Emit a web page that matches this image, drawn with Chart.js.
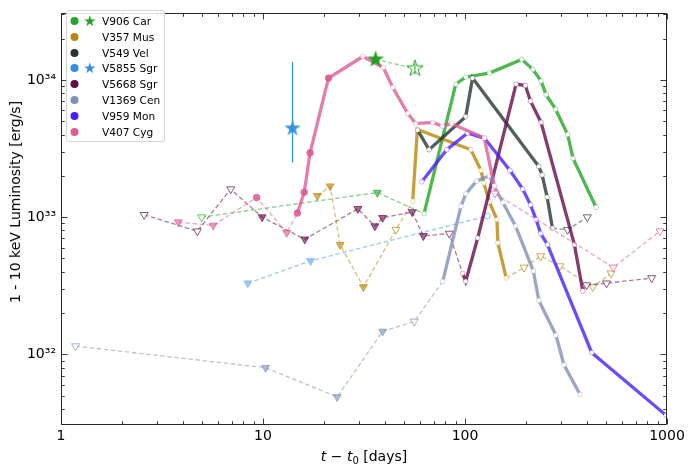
<!DOCTYPE html>
<html><head><meta charset="utf-8">
<script src="https://cdn.jsdelivr.net/npm/chart.js@4.4.1/dist/chart.umd.min.js"></script>
<style>
html,body{margin:0;padding:0;background:#fff;}
#wrap{position:relative;width:692px;height:470px;font-family:'DejaVu Sans',sans-serif;color:#000;}
#c{position:absolute;left:0;top:0;}
#legend{position:absolute;left:66px;top:10px;width:99px;height:132px;border:1px solid #d4d4d4;border-radius:3px;background:rgba(255,255,255,0.85);box-sizing:border-box;}
.lrow{position:absolute;left:0;width:97px;height:16px;}
.lrow svg{position:absolute;left:0;top:0;}
.lrow span{position:absolute;left:35px;top:0;font-size:10.6px;line-height:16px;white-space:nowrap;}
#xt{position:absolute;left:264px;width:200px;top:447px;text-align:center;font-size:14px;line-height:18px;white-space:nowrap;}
#xt sub{font-size:10px;vertical-align:-3px;line-height:0;}
#yt{position:absolute;left:15px;top:202px;font-size:14px;line-height:18px;white-space:nowrap;transform:translate(-50%,-50%) rotate(-90deg);}
</style></head>
<body><div id="wrap"><canvas id="c" width="692" height="470"></canvas>
<div id="legend"></div>
<div id="xt"><i>t</i> − <i>t</i><sub>0</sub> [days]</div>
<div id="yt">1 - 10 keV Luminosity [erg/s]</div>
</div>
<script>
// ---------------- data ----------------
const xTicks = [1, 10, 100, 1000];
const yTicks = [1e32, 1e33, 1e34];

// V906 Car
const carDetT = [62.7, 90, 101, 132, 191, 217, 238, 252, 281, 322, 343, 445];
const carDetL = [1.06e33, 9.3e33, 1.05e34, 1.12e34, 1.41e34, 1.19e34, 9.8e33, 7.8e33, 6.1e33, 4.0e33, 2.68e33, 1.18e33];
const carUlT = [4.97, 36.8];
const carUlL = [1.0e33, 1.51e33];
const carStarT = [36.1, 56.5];
const carStarL = [1.41e34, 1.21e34];
const carStarErrLo = [1.1e34];
const carStarErrHi = [1.32e34];

// V357 Mus
const musDetT = [55.1, 58.1, 107, 120, 124, 132, 144, 145.5, 160];
const musDetL = [1.31e33, 4.36e33, 3.1e33, 2.19e33, 1.77e33, 1.29e33, 9.6e32, 6.5e32, 3.6e32];
const musUlT = [18.6, 21.5, 24.1, 31.4, 45.5, 196, 237, 295, 429, 528];
const musUlL = [1.43e33, 1.68e33, 6.3e32, 3.1e32, 8.1e32, 4.3e32, 5.2e32, 4.4e32, 3.1e32, 3.9e32];

// V549 Vel
const velDetT = [58.3, 66.4, 100.8, 109, 232, 241, 255, 271];
const velDetL = [4.3e33, 3.1e33, 5.4e33, 1.03e34, 2.34e33, 2.03e33, 1.4e33, 8.3e32];
const velUlT = [322, 403];
const velUlL = [8.1e32, 1.0e33];

// V5855 Sgr
const s55DetT = [129];
const s55DetL = [1.02e33];
const s55UlT = [8.4, 17.2];
const s55UlL = [3.3e32, 4.8e32];
const s55StarT = [14.0];
const s55StarL = [4.43e33];
const s55StarErrLo = [2.5e33];
const s55StarErrHi = [1.35e34];

// V5668 Sgr
const s68DetT = [97.3, 100.8, 115.6, 179, 199, 211, 238, 348, 383];
const s68DetL = [3.9e32, 3.4e32, 7.05e32, 9.3e33, 9.1e33, 7.0e33, 4.9e33, 6.3e32, 2.9e32];
const s68UlT = [2.58, 4.73, 6.92, 9.9, 16.1, 29.5, 35.8, 39.1, 54.8, 62.2, 83.6, 400, 502, 840];
const s68UlL = [1.04e33, 7.9e32, 1.6e33, 1.0e33, 6.9e32, 1.15e33, 8.6e32, 9.9e32, 1.09e33, 7.3e32, 7.6e32, 3.2e32, 3.3e32, 3.6e32];

// V1369 Cen
const cenDetT = [77.6, 95.5, 101, 114, 132, 140, 154, 178, 218, 232, 282, 309, 371];
const cenDetL = [3.4e32, 1.2e33, 1.48e33, 1.83e33, 2.0e33, 1.66e33, 1.28e33, 8.6e32, 4.05e32, 2.47e32, 1.38e32, 8.4e31, 5.1e31];
const cenUlT = [1.18, 10.3, 23.3, 39.1, 56.1];
const cenUlL = [1.15e32, 8.0e31, 4.9e31, 1.47e32, 1.74e32];

// V959 Mon
const monDetT = [61.1, 81.2, 103, 125, 167, 193, 211, 225, 237, 256, 424, 990];
const monDetL = [1.81e33, 3.1e33, 4.1e33, 3.75e33, 2.19e33, 1.6e33, 1.23e33, 9.6e32, 7.6e32, 6.3e32, 1.03e32, 3.6e31];

// V407 Cyg
const cygDetT = [14.8, 16.0, 17.1, 21.1, 31.2, 39.4, 43.9, 52.0, 57.0, 69.2, 77.2, 85.9, 124.6, 139.6];
const cygDetL = [1.07e33, 1.52e33, 2.94e33, 1.03e34, 1.48e34, 1.23e34, 8.8e33, 5.7e33, 4.8e33, 4.9e33, 4.6e33, 4.8e33, 3.77e33, 1.69e33];
const cygExT = [9.3];
const cygExL = [1.39e33];
const cygUlT = [3.81, 5.67, 13.1, 140.7, 542, 923];
const cygUlL = [9.2e32, 8.7e32, 7.7e32, 1.49e33, 4.3e32, 7.9e32];

// ---------------- series config ----------------
const novae = [
  {name:'V906 Car', color:'#22a522', detT:carDetT, detL:carDetL, ulT:carUlT, ulL:carUlL, openUl:[0], star:true},
  {name:'V357 Mus', color:'#b8860b', detT:musDetT, detL:musDetL, ulT:musUlT, ulL:musUlL, openUl:[4,5,6,7,8,9]},
  {name:'V549 Vel', color:'#283434', detT:velDetT, detL:velDetL, ulT:velUlT, ulL:velUlL, openUl:[0,1]},
  {name:'V5855 Sgr', color:'#2f8fe0', ulColor:'#8cc2f2', detT:s55DetT, detL:s55DetL, ulT:s55UlT, ulL:s55UlL, openUl:[], noLine:true, star:true},
  {name:'V5668 Sgr', color:'#640b48', detT:s68DetT, detL:s68DetL, ulT:s68UlT, ulL:s68UlL, openUl:[0,1,2,10,11,12,13]},
  {name:'V1369 Cen', color:'#7f90b8', detT:cenDetT, detL:cenDetL, ulT:cenUlT, ulL:cenUlL, openUl:[0,4]},
  {name:'V959 Mon', color:'#4b1cff', detT:monDetT, detL:monDetL, ulT:[], ulL:[], openUl:[]},
  {name:'V407 Cyg', color:'#dd5c96', detT:cygDetT, detL:cygDetL, ulT:cygUlT, ulL:cygUlL, openUl:[3,4,5], exT:cygExT, exL:cygExL, filledDet:4}
];

function rgba(hex, a){
  const n = parseInt(hex.slice(1),16);
  return `rgba(${(n>>16)&255},${(n>>8)&255},${n&255},${a})`;
}
function starCanvas(R, fill, stroke, lw){
  const s = Math.ceil(2*R+2*lw+2);
  const cv = document.createElement('canvas'); cv.width = s; cv.height = s;
  const g = cv.getContext('2d'); const c = s/2; const r = R*0.382;
  g.beginPath();
  for(let i=0;i<10;i++){
    const ang = -Math.PI/2 + i*Math.PI/5; const rr = i%2===0 ? R : r;
    const px = c + rr*Math.cos(ang), py = c + rr*Math.sin(ang);
    if(i===0) g.moveTo(px,py); else g.lineTo(px,py);
  }
  g.closePath();
  g.fillStyle = fill; g.fill();
  if(stroke){ g.strokeStyle = stroke; g.lineWidth = lw; g.stroke(); }
  return cv;
}

function dashedPoints(s){
  const ul = s.ulT.map((t,i)=>({x:t, y:s.ulL[i], kind:'ul', open:s.openUl.includes(i)}));
  const ex = (s.exT||[]).map((t,i)=>({x:t, y:s.exL[i], kind:'ex'}));
  const all = ul.concat(ex).sort((a,b)=>a.x-b.x);
  const n = s.detT.length;
  const t0 = s.detT[0], t1 = s.detT[n-1];
  const pre = all.filter(p=>p.x < t0), post = all.filter(p=>p.x > t1);
  const pts = [];
  if(pre.length){ pts.push(...pre, {x:t0, y:s.detL[0], kind:'det'}); }
  if(post.length){
    if(pts.length) pts.push({x:Math.sqrt(t0*t1), y:null, kind:'gap'});
    pts.push({x:t1, y:s.detL[n-1], kind:'det'}, ...post);
  }
  return pts;
}

const datasets = [];
novae.forEach(s=>{
  const uc = s.ulColor || s.color;
  const dpts = dashedPoints(s);
  if(dpts.length){
    datasets.push({
      data: dpts, borderColor: rgba(uc, s.ulColor?0.85:0.55), borderWidth: 1.3, borderDash:[4.5,2.6],
      spanGaps:false, fill:false, tension:0,
      pointStyle: c => (c.raw && c.raw.kind==='ex') ? 'circle' : 'triangle',
      pointRotation: c => (c.raw && c.raw.kind==='ex') ? 0 : 180,
      pointRadius: c => { const k = c.raw && c.raw.kind; return k==='ul' ? 4.6 : (k==='ex' ? 3.3 : 0); },
      pointBackgroundColor: c => { const r=c.raw||{}; if(r.kind==='ex') return rgba(s.color,0.85); return r.open ? 'rgba(255,255,255,0.9)' : rgba(uc, s.ulColor?0.9:0.6); },
      pointBorderColor: c => { const r=c.raw||{}; return r.kind==='ex' ? rgba(s.color,0.85) : rgba(uc, s.ulColor?0.95:0.7); },
      pointBorderWidth: 1
    });
  }
  const det = s.detT.map((t,i)=>({x:t, y:s.detL[i]}));
  datasets.push({
    data: det, showLine: !s.noLine, borderColor: rgba(s.color,0.8), borderWidth: 3.3, tension:0,
    pointStyle:'circle',
    pointRadius: c => (s.filledDet && c.dataIndex < s.filledDet) ? 3.3 : (s.noLine ? 3 : 2.4),
    pointBackgroundColor: c => (s.filledDet && c.dataIndex < s.filledDet) ? rgba(s.color,0.9) : '#ffffff',
    pointBorderColor: c => (s.filledDet && c.dataIndex < s.filledDet) ? rgba(s.color,0.9) : (s.noLine ? rgba(s.ulColor,1) : rgba(s.color,0.4)),
    pointBorderWidth: c => s.noLine ? 1 : 0.8
  });
});

// V906 Car stars
datasets.push({
  data: carStarT.map((t,i)=>({x:t, y:carStarL[i]})), borderColor: rgba('#22a522',0.55), borderWidth:1.2, borderDash:[4,2.5],
  pointStyle: c => c.dataIndex===0 ? starCanvas(9,'#1e9e1e',null,0) : starCanvas(8.6,'#ffffff','#22a522',1),
  pointRadius: 9
});
datasets.push({
  data: [{x:carStarT[1], y:carStarErrLo[0]},{x:carStarT[1], y:carStarErrHi[0]}], borderColor:'#22a522', borderWidth:1, pointRadius:0
});
// V5855 Sgr star with error bar
datasets.push({
  data: [{x:s55StarT[0], y:s55StarErrLo[0]},{x:s55StarT[0], y:s55StarErrHi[0]}], borderColor:'#2f8fe0', borderWidth:1.2, pointRadius:0
});
datasets.push({
  data: s55StarT.map((t,i)=>({x:t, y:s55StarL[i]})), showLine:false,
  pointStyle: starCanvas(8.6,'#3490e0',null,0), pointRadius: 9
});
datasets.forEach((d,i)=>{ d.order = -i; });

const sup = {'0':'⁰','1':'¹','2':'²','3':'³','4':'⁴','5':'⁵','6':'⁶','7':'⁷','8':'⁸','9':'⁹'};
const supStr = n => String(n).split('').map(ch=>sup[ch]).join('');

const frameTicks = {
  id:'frameTicks',
  afterDatasetsDraw(chart){
    const {ctx, chartArea:a, scales:{x, y}} = chart;
    ctx.save();
    ctx.strokeStyle = '#262626'; ctx.lineWidth = 1;
    ctx.beginPath();
    const L = Math.round(a.left)+0.5, R = Math.round(a.right)-0.5, T = Math.round(a.top)+0.5, B = Math.round(a.bottom)-0.5;
    ctx.rect(L, T, R-L, B-T); ctx.stroke();
    ctx.lineWidth = 0.9;
    ctx.beginPath();
    const xt = (v, len) => { const p = Math.round(x.getPixelForValue(v))+0.5; ctx.moveTo(p,B); ctx.lineTo(p,B-len); ctx.moveTo(p,T); ctx.lineTo(p,T+len); };
    const yt = (v, len) => { const p = Math.round(y.getPixelForValue(v))+0.5; ctx.moveTo(L,p); ctx.lineTo(L+len,p); ctx.moveTo(R,p); ctx.lineTo(R-len,p); };
    for(let e=0;e<3;e++){ for(let m=2;m<=9;m++) xt(m*Math.pow(10,e), 3.3); }
    xTicks.forEach(v=>xt(v,6));
    for(let e=31;e<=34;e++){ for(let m=2;m<=9;m++){ const v=m*Math.pow(10,e); if(v>y.min && v<y.max) yt(v,3.3);} }
    yTicks.forEach(v=>yt(v,6));
    ctx.stroke();
    ctx.restore();
  }
};

Chart.defaults.font.family = "'DejaVu Sans', sans-serif";
Chart.defaults.font.size = 14;
Chart.defaults.color = '#000';

new Chart(document.getElementById('c'), {
  type:'line',
  data:{datasets},
  options:{
    responsive:false, animation:false, events:[],
    layout:{padding:{left:0, right:25, top:5, bottom:0}},
    plugins:{legend:{display:false}, tooltip:{enabled:false}},
    scales:{
      x:{type:'logarithmic', min:1, max:1000,
        grid:{display:false, drawTicks:false}, border:{display:false},
        afterBuildTicks: s => { s.ticks = xTicks.map(v=>({value:v})); },
        afterFit: s => { s.height = 45; },
        ticks:{autoSkip:false, maxRotation:0, padding:3, callback: v => String(v)}
      },
      y:{type:'logarithmic', min:3.06e31, max:3.05e34,
        grid:{display:false, drawTicks:false}, border:{display:false},
        afterBuildTicks: s => { s.ticks = yTicks.map(v=>({value:v})); },
        afterFit: s => { s.width = 61; },
        ticks:{autoSkip:false, padding:5, callback: v => '10' + supStr(Math.round(Math.log10(v)))}
      }
    }
  },
  plugins:[frameTicks]
});

// ---------------- legend ----------------
const leg = document.getElementById('legend');
novae.forEach((s,i)=>{
  const row = document.createElement('div'); row.className='lrow';
  row.style.top = (1.7 + 15.9*i) + 'px';
  let svg = `<svg width="40" height="16"><circle cx="7.5" cy="8" r="4" fill="${s.color}"/>`;
  if(s.star){
    const R=6, r=R*0.382, cx=22.8, cy=8.3; let d='';
    for(let k=0;k<10;k++){ const ang=-Math.PI/2+k*Math.PI/5, rr=k%2===0?R:r; d += (k?'L':'M')+(cx+rr*Math.cos(ang)).toFixed(2)+' '+(cy+rr*Math.sin(ang)).toFixed(2); }
    svg += `<path d="${d}Z" fill="${s.color}"/>`;
  }
  svg += '</svg>';
  row.innerHTML = svg + `<span>${s.name}</span>`;
  leg.appendChild(row);
});
</script>
</body></html>
